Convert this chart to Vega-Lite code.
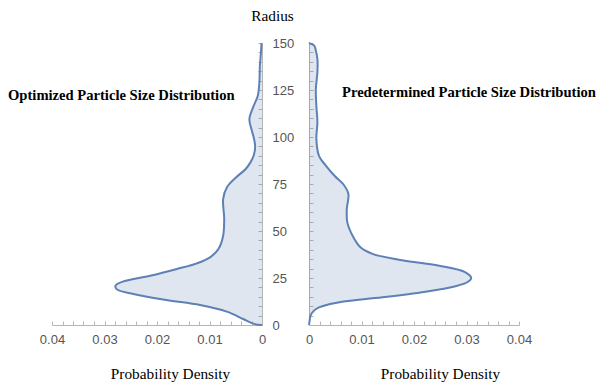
{
  "$schema": "https://vega.github.io/schema/vega-lite/v6.json",
  "padding": {"left": 8, "top": 8, "right": 0, "bottom": 0},
  "background": "white",
  "datasets": {
    "optimized": [
      {"r": 0, "d": 0}, {"r": 0.6, "d": 0.0015}, {"r": 3.2, "d": 0.0036}, {"r": 7.1, "d": 0.0067},
      {"r": 10.6, "d": 0.0118}, {"r": 13.3, "d": 0.0182}, {"r": 16.5, "d": 0.0245}, {"r": 19.1, "d": 0.0277},
      {"r": 21, "d": 0.0279}, {"r": 23.2, "d": 0.0264}, {"r": 26.2, "d": 0.0213}, {"r": 29.8, "d": 0.0162},
      {"r": 32.8, "d": 0.0124}, {"r": 36, "d": 0.0099}, {"r": 40.4, "d": 0.0083}, {"r": 47.5, "d": 0.0074},
      {"r": 56.4, "d": 0.0072}, {"r": 67, "d": 0.0074}, {"r": 73.2, "d": 0.0067}, {"r": 78.6, "d": 0.0049},
      {"r": 83, "d": 0.0031}, {"r": 86.5, "d": 0.0022}, {"r": 90, "d": 0.0016}, {"r": 95, "d": 0.0013},
      {"r": 100, "d": 0.0016}, {"r": 104, "d": 0.002}, {"r": 109.6, "d": 0.0024}, {"r": 115.8, "d": 0.0017},
      {"r": 122, "d": 0.0008}, {"r": 129, "d": 0.0005}, {"r": 138, "d": 0.0004}, {"r": 145, "d": 0.0002},
      {"r": 150, "d": 0.0001}
    ],
    "predetermined": [
      {"r": 0, "d": 0}, {"r": 2, "d": 0.0001}, {"r": 5, "d": 0.0003}, {"r": 7.5, "d": 0.0009},
      {"r": 9.4, "d": 0.0019}, {"r": 11, "d": 0.0038}, {"r": 12.4, "d": 0.0063}, {"r": 14.7, "d": 0.014},
      {"r": 17.7, "d": 0.0222}, {"r": 20.6, "d": 0.0279}, {"r": 23, "d": 0.0303}, {"r": 25, "d": 0.0309},
      {"r": 28, "d": 0.0298}, {"r": 31.5, "d": 0.0248}, {"r": 34.7, "d": 0.0171}, {"r": 37.8, "d": 0.0121},
      {"r": 41.3, "d": 0.0098}, {"r": 47.5, "d": 0.0083}, {"r": 54.6, "d": 0.0073}, {"r": 61.7, "d": 0.0072},
      {"r": 69.7, "d": 0.0075}, {"r": 75, "d": 0.0065}, {"r": 79, "d": 0.005}, {"r": 84.8, "d": 0.0032},
      {"r": 90, "d": 0.0019}, {"r": 99, "d": 0.0014}, {"r": 107.8, "d": 0.0016}, {"r": 116.7, "d": 0.0014},
      {"r": 125.5, "d": 0.0013}, {"r": 134.4, "d": 0.0016}, {"r": 141.5, "d": 0.0016}, {"r": 146, "d": 0.0013},
      {"r": 148.6, "d": 0.001}, {"r": 150, "d": 0}
    ]
  },
  "config": {
    "view": {"stroke": null},
    "axis": {
      "grid": false,
      "domainColor": "#b5b5b5",
      "tickColor": "#b5b5b5",
      "tickSize": -4,
      "labelFlush": false,
      "labelFont": "Liberation Sans",
      "labelFontSize": 13,
      "labelColor": "#555555",
      "titleFont": "Liberation Serif",
      "titleFontSize": 15.3,
      "titleFontWeight": "normal",
      "titleColor": "#000000"
    }
  },
  "hconcat": [
    {
      "width": 210,
      "height": 282,
      "data": {"name": "optimized"},
      "title": {
        "text": "Optimized Particle Size Distribution",
        "anchor": "start", "orient": "top", "frame": "group", "offset": 0,
        "dx": -44, "dy": 107, "baseline": "alphabetic",
        "font": "Liberation Serif", "fontSize": 14.6, "fontWeight": "bold", "color": "#000000"
      },
      "encoding": {
        "x": {
          "field": "d", "type": "quantitative",
          "scale": {"domain": [0, 0.04], "reverse": true, "nice": false, "zero": false},
          "axis": {
            "title": "Probability Density",
            "values": [0, 0.002, 0.004, 0.006, 0.008, 0.01, 0.012, 0.014, 0.016, 0.018, 0.02, 0.022, 0.024, 0.026, 0.028, 0.03, 0.032, 0.034, 0.036, 0.038, 0.04],
            "format": ".2~f",
            "labelExpr": "abs(round(datum.value*1000)) % 10 == 0 ? datum.label : ''",
            "labelPadding": 12,
            "titleX": 118, "titleY": 48, "titleAlign": "center", "titleBaseline": "middle"
          }
        },
        "y": {
          "field": "r", "type": "quantitative",
          "scale": {"domain": [0, 150], "nice": false},
          "axis": {
            "orient": "right",
            "title": "Radius",
            "values": [0, 5, 10, 15, 20, 25, 30, 35, 40, 45, 50, 55, 60, 65, 70, 75, 80, 85, 90, 95, 100, 105, 110, 115, 120, 125, 130, 135, 140, 145, 150],
            "labelExpr": "datum.value % 25 == 0 ? datum.label : ''",
            "labelPadding": 14,
            "labelAlign": "left",
            "titleAngle": 0, "titleX": 10, "titleY": -28, "titleAlign": "center", "titleBaseline": "middle"
          }
        }
      },
      "layer": [
        {"mark": {"type": "area", "orient": "horizontal", "interpolate": "catmull-rom", "color": "#5e81b5", "opacity": 0.2}},
        {"mark": {"type": "line", "interpolate": "catmull-rom", "color": "#5e81b5", "strokeWidth": 2}, "encoding": {"order": {"field": "r", "type": "quantitative"}}}
      ]
    },
    {
      "width": 210,
      "height": 282,
      "data": {"name": "predetermined"},
      "title": {
        "text": "Predetermined Particle Size Distribution",
        "anchor": "start", "orient": "top", "frame": "group", "offset": 0,
        "dx": 33, "dy": 73, "baseline": "alphabetic",
        "font": "Liberation Serif", "fontSize": 14.6, "fontWeight": "bold", "color": "#000000"
      },
      "encoding": {
        "x": {
          "field": "d", "type": "quantitative",
          "scale": {"domain": [0, 0.04], "nice": false},
          "axis": {
            "title": "Probability Density",
            "values": [0, 0.002, 0.004, 0.006, 0.008, 0.01, 0.012, 0.014, 0.016, 0.018, 0.02, 0.022, 0.024, 0.026, 0.028, 0.03, 0.032, 0.034, 0.036, 0.038, 0.04],
            "format": ".2~f",
            "labelExpr": "abs(round(datum.value*1000)) % 10 == 0 ? datum.label : ''",
            "labelPadding": 12,
            "titleX": 131, "titleY": 48, "titleAlign": "center", "titleBaseline": "middle"
          }
        },
        "y": {
          "field": "r", "type": "quantitative",
          "scale": {"domain": [0, 150], "nice": false},
          "axis": {
            "orient": "left",
            "title": null,
            "labels": false,
            "values": [0, 5, 10, 15, 20, 25, 30, 35, 40, 45, 50, 55, 60, 65, 70, 75, 80, 85, 90, 95, 100, 105, 110, 115, 120, 125, 130, 135, 140, 145, 150]
          }
        }
      },
      "layer": [
        {"mark": {"type": "area", "orient": "horizontal", "interpolate": "catmull-rom", "color": "#5e81b5", "opacity": 0.2}},
        {"mark": {"type": "line", "interpolate": "catmull-rom", "color": "#5e81b5", "strokeWidth": 2}, "encoding": {"order": {"field": "r", "type": "quantitative"}}}
      ]
    }
  ],
  "spacing": 11
}
